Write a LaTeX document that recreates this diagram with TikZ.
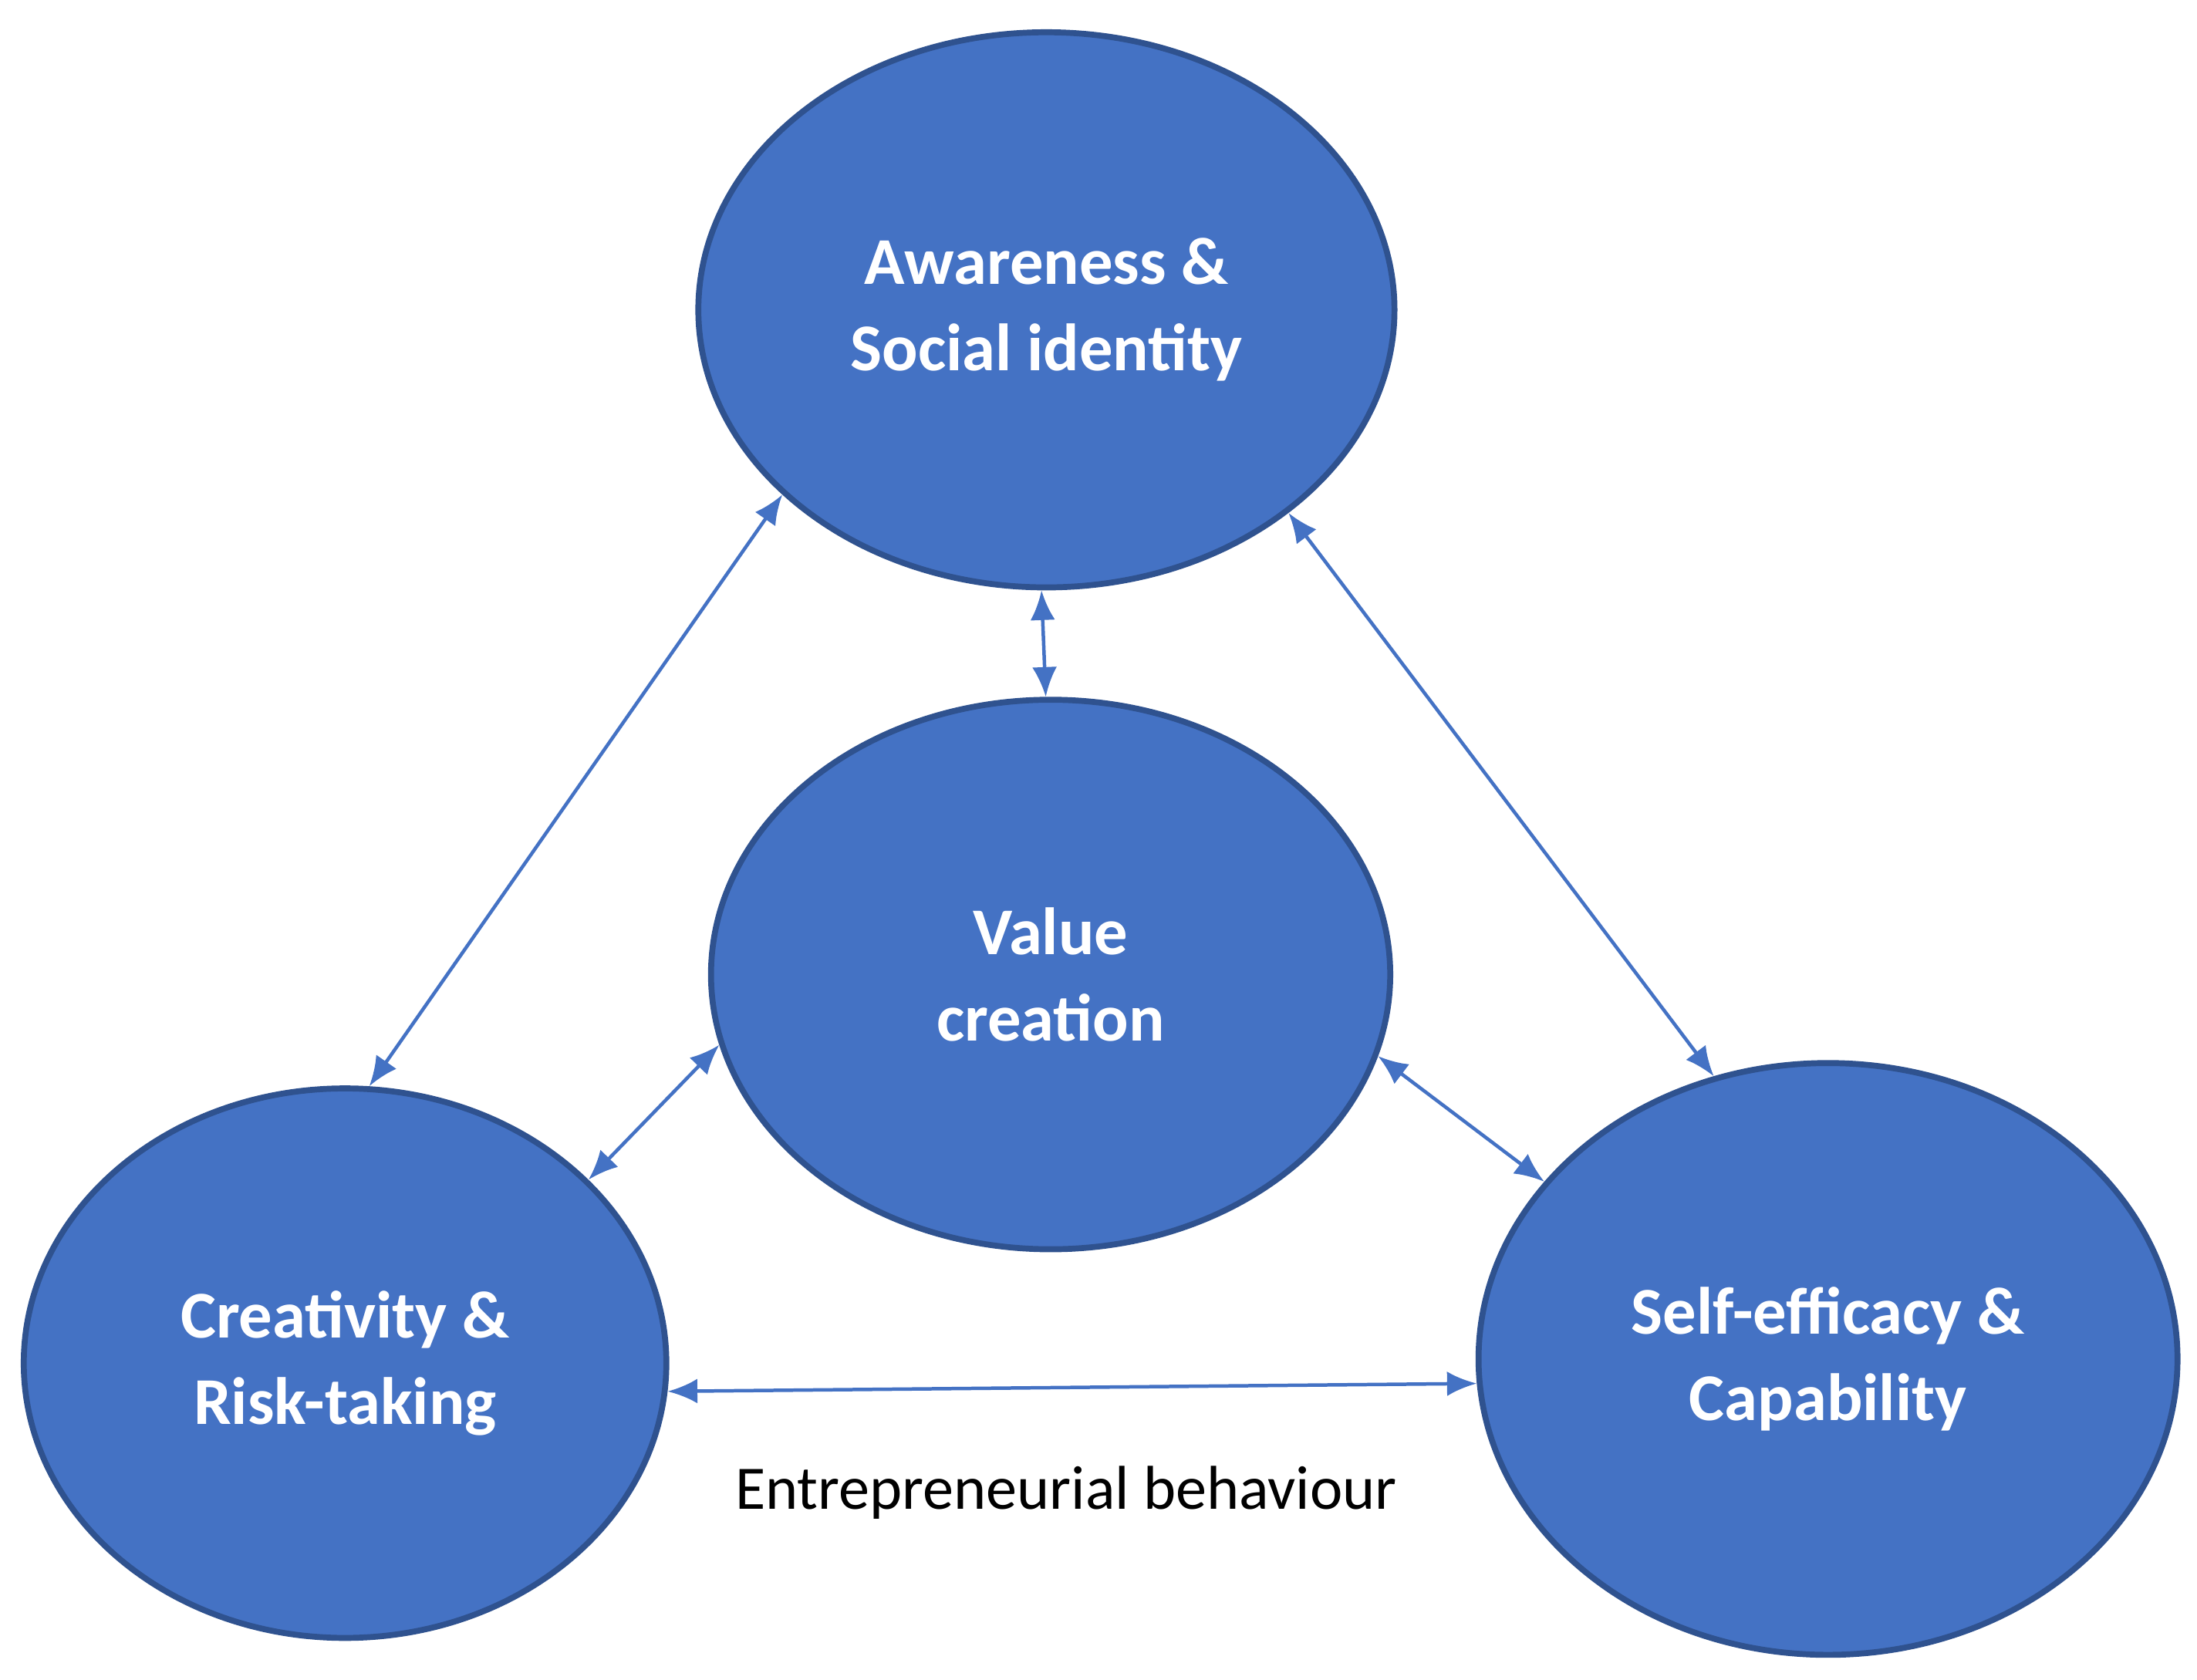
\documentclass[tikz,border=0pt]{standalone}
\usepackage{fontspec}
\setmainfont{Carlito}
\usetikzlibrary{arrows.meta,shapes.geometric}
\definecolor{ovalblue}{HTML}{4472C4}
\definecolor{ovalline}{HTML}{2F528F}
\begin{document}
\begin{tikzpicture}[x=0.01cm,y=-0.01cm]

              % Definitions
              \tikzstyle{Factor} = [ellipse, inner sep=0pt, fill=ovalblue, draw=ovalline, line width=1.2pt, text=white, font=\fontsize{13.5}{17.5}\selectfont\bfseries, align=center]
              \tikzstyle{arrow} = [draw=ovalblue, line width=0.7pt, {Latex[length=6pt,width=5pt]}-{Latex[length=6pt,width=5pt]}]

              \useasboundingbox (0,0) rectangle (1560,1193);

              \node (Aware) [Factor, minimum width=4.94cm, minimum height=3.94cm] at (743,220) {Awareness \&\\Social identity};
              \node (Value) [Factor, minimum width=4.82cm, minimum height=3.9cm] at (746,692) {Value\\creation};
              \node (Create) [Factor, minimum width=4.56cm, minimum height=3.9cm] at (245,968) {Creativity \&\\Risk-taking};
              \node (Self) [Factor, minimum width=4.96cm, minimum height=4.2cm] at (1298,965) {Self-efficacy \&\\Capability};

              \node (Entre) [font=\fontsize{12.5}{15}\selectfont] at (757,1060) {Entrepreneurial behaviour};

              \draw [arrow] (Aware.215) -- (Create.85);
              \draw [arrow] (Aware.320) -- (Self.112);
              \draw [arrow] (Aware.269) -- (Value.91);
              \draw [arrow] (Value.192) -- (Create.37);
              \draw [arrow] (Value.346) -- (Self.148);
              \draw [arrow] (Create.355) -- (Self.184);

            \end{tikzpicture}
\end{document}
